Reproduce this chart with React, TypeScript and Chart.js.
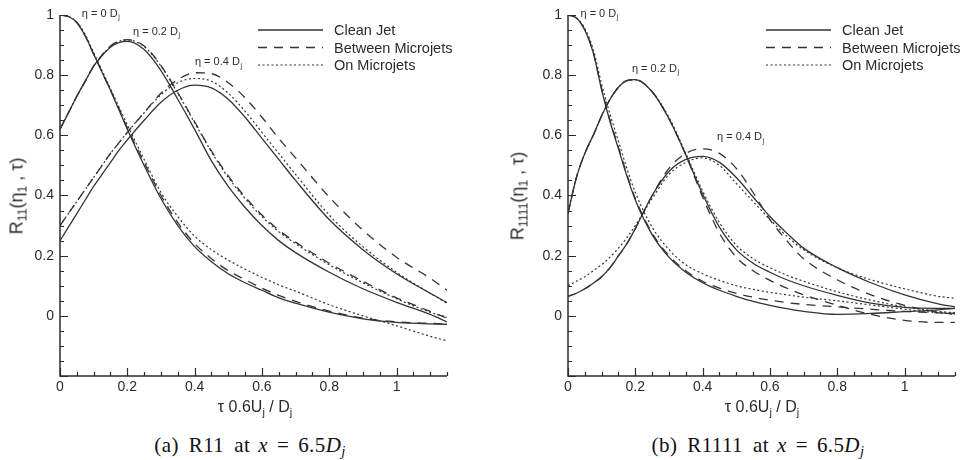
import React, { useEffect, useRef } from 'react';
import { Chart, registerables } from 'chart.js';
Chart.register(...registerables);

// ---- shared abscissa (tau * 0.6 Uj / Dj) ----
const TAU = [0, 0.025, 0.05, 0.075, 0.1, 0.125, 0.15, 0.175, 0.2, 0.25, 0.3, 0.35, 0.4, 0.45, 0.5, 0.55, 0.6, 0.65, 0.7, 0.8, 0.9, 1.0, 1.1, 1.15];

// ---- panel (a) R11 ----
const R11_ETA0_CLEAN = [1.0, 0.995, 0.975, 0.93, 0.87, 0.81, 0.75, 0.685, 0.62, 0.5, 0.39, 0.3, 0.23, 0.18, 0.14, 0.11, 0.085, 0.06, 0.042, 0.012, -0.01, -0.022, -0.027, -0.028];
const R11_ETA0_BETWEEN = [1.0, 0.995, 0.975, 0.93, 0.87, 0.81, 0.75, 0.69, 0.625, 0.51, 0.4, 0.31, 0.24, 0.19, 0.15, 0.12, 0.092, 0.068, 0.048, 0.016, -0.008, -0.02, -0.025, -0.027];
const R11_ETA0_ON = [1.0, 0.995, 0.976, 0.935, 0.875, 0.815, 0.755, 0.695, 0.635, 0.52, 0.41, 0.33, 0.265, 0.22, 0.185, 0.155, 0.128, 0.103, 0.082, 0.037, 0.0, -0.033, -0.068, -0.083];
const R11_ETA2_CLEAN = [0.62, 0.675, 0.73, 0.78, 0.83, 0.865, 0.893, 0.908, 0.912, 0.885, 0.815, 0.72, 0.62, 0.515, 0.43, 0.36, 0.3, 0.25, 0.21, 0.145, 0.09, 0.045, 0.005, -0.02];
const R11_ETA2_BETWEEN = [0.62, 0.675, 0.73, 0.78, 0.83, 0.867, 0.897, 0.913, 0.918, 0.897, 0.832, 0.742, 0.645, 0.548, 0.465, 0.395, 0.335, 0.285, 0.245, 0.175, 0.115, 0.06, 0.015, -0.008];
const R11_ETA2_ON = [0.62, 0.675, 0.73, 0.78, 0.83, 0.866, 0.896, 0.912, 0.917, 0.895, 0.83, 0.74, 0.642, 0.545, 0.46, 0.39, 0.33, 0.28, 0.24, 0.17, 0.11, 0.057, 0.012, -0.005];
const R11_ETA4_CLEAN = [0.25, 0.295, 0.34, 0.385, 0.43, 0.47, 0.51, 0.55, 0.585, 0.65, 0.71, 0.75, 0.767, 0.758, 0.72, 0.66, 0.59, 0.52, 0.45, 0.32, 0.22, 0.14, 0.075, 0.044];
const R11_ETA4_BETWEEN = [0.3, 0.34, 0.38, 0.42, 0.46, 0.5, 0.54, 0.575, 0.61, 0.675, 0.74, 0.785, 0.808, 0.805, 0.775, 0.725, 0.66, 0.59, 0.525, 0.395, 0.285, 0.195, 0.125, 0.085];
const R11_ETA4_ON = [0.3, 0.34, 0.38, 0.42, 0.46, 0.5, 0.54, 0.575, 0.61, 0.675, 0.735, 0.775, 0.789, 0.78, 0.74, 0.68, 0.61, 0.54, 0.47, 0.335, 0.23, 0.145, 0.075, 0.042];

// ---- panel (b) R1111 ----
const R1111_ETA0_CLEAN = [1.0, 0.99, 0.95, 0.875, 0.75, 0.645, 0.555, 0.465, 0.385, 0.27, 0.195, 0.145, 0.11, 0.085, 0.065, 0.048, 0.035, 0.024, 0.015, 0.005, 0.008, 0.014, 0.02, 0.025];
const R1111_ETA0_BETWEEN = [1.0, 0.99, 0.95, 0.875, 0.755, 0.65, 0.56, 0.47, 0.39, 0.275, 0.2, 0.15, 0.115, 0.092, 0.075, 0.062, 0.052, 0.044, 0.038, 0.03, 0.022, 0.015, 0.01, 0.008];
const R1111_ETA0_ON = [1.0, 0.99, 0.955, 0.885, 0.77, 0.67, 0.58, 0.49, 0.41, 0.295, 0.22, 0.17, 0.14, 0.118, 0.1, 0.088, 0.078, 0.07, 0.062, 0.05, 0.036, 0.022, 0.01, 0.006];
const R1111_ETA2_CLEAN = [0.34, 0.46, 0.54, 0.6, 0.665, 0.72, 0.76, 0.782, 0.785, 0.745, 0.655, 0.535, 0.405, 0.295, 0.22, 0.175, 0.145, 0.12, 0.1, 0.068, 0.042, 0.028, 0.025, 0.025];
const R1111_ETA2_BETWEEN = [0.34, 0.46, 0.54, 0.6, 0.665, 0.72, 0.76, 0.782, 0.785, 0.745, 0.655, 0.535, 0.395, 0.275, 0.195, 0.15, 0.118, 0.092, 0.07, 0.035, 0.005, -0.015, -0.022, -0.022];
const R1111_ETA2_ON = [0.35, 0.46, 0.54, 0.6, 0.665, 0.72, 0.76, 0.782, 0.785, 0.745, 0.66, 0.54, 0.415, 0.31, 0.235, 0.19, 0.16, 0.135, 0.115, 0.08, 0.052, 0.03, 0.015, 0.01];
const R1111_ETA4_CLEAN = [0.065, 0.075, 0.09, 0.108, 0.13, 0.16, 0.2, 0.24, 0.29, 0.4, 0.48, 0.52, 0.53, 0.51, 0.46, 0.395, 0.33, 0.275, 0.225, 0.16, 0.11, 0.07, 0.04, 0.03];
const R1111_ETA4_BETWEEN = [0.065, 0.075, 0.09, 0.108, 0.13, 0.16, 0.2, 0.24, 0.29, 0.4, 0.49, 0.54, 0.555, 0.54, 0.49, 0.41, 0.32, 0.25, 0.19, 0.12, 0.07, 0.035, 0.012, 0.005];
const R1111_ETA4_ON = [0.1, 0.115, 0.13, 0.15, 0.17, 0.195, 0.225, 0.26, 0.3, 0.39, 0.47, 0.51, 0.525, 0.5, 0.44, 0.38, 0.32, 0.265, 0.22, 0.16, 0.12, 0.09, 0.065, 0.058];

// ---- labels ----
const LEGEND_LABELS = ['Clean Jet', 'Between Microjets', 'On Microjets'];
const Y_TICKS = [0, 0.2, 0.4, 0.6, 0.8, 1];
const X_TICKS = [0, 0.2, 0.4, 0.6, 0.8, 1];
const ETA_LABELS = ['η = 0 D', 'η = 0.2 D', 'η = 0.4 D'];
const ANNOT_A = [[0.065, 1.005], [0.217, 0.945], [0.401, 0.845]];
const ANNOT_B = [[0.037, 1.005], [0.19, 0.822], [0.443, 0.595]];

const INK = '#2b2b2b';
const LINE = '#333333';
const SANS = '"Liberation Sans", Arial, Helvetica, sans-serif';
const SERIF = '"Liberation Serif", "DejaVu Serif", serif';

const STYLE_KEYS = ['clean', 'between', 'on'];
const DASHES: Record<string, number[]> = { clean: [], between: [9, 7], on: [2, 2.5] };

type PanelCfg = {
  canvasLeft: number;
  width: number;
  yAxisWidth: number;
  padRight: number;
  series: number[][];
  annots: number[][];
};

const CANVAS_H = 420;
const PLOT_TOP = 15;
const X_AXIS_H = 44;

function buildDatasets(series: number[][]) {
  return series.map((vals, i) => {
    const style = STYLE_KEYS[i % 3];
    return {
      label: LEGEND_LABELS[i % 3],
      data: TAU.map((t, k) => ({ x: t, y: vals[k] })),
      borderColor: LINE,
      borderWidth: style === 'on' ? 1.2 : 1.3,
      borderDash: DASHES[style],
      pointRadius: 0,
      fill: false,
      cubicInterpolationMode: 'monotone' as const,
    };
  });
}

function Panel({ cfg }: { cfg: PanelCfg }) {
  const ref = useRef<HTMLCanvasElement>(null);
  useEffect(() => {
    const decor = {
      id: 'decor',
      afterDraw(chart: any) {
        const { ctx, chartArea: ca, scales } = chart;
        const xs = scales.x;
        const ys = scales.y;
        ctx.save();
        ctx.strokeStyle = INK;
        ctx.lineWidth = 1.5;
        ctx.setLineDash([]);
        ctx.beginPath();
        ctx.moveTo(ca.left, ca.top);
        ctx.lineTo(ca.left, ca.bottom);
        ctx.lineTo(ca.right, ca.bottom);
        ctx.stroke();
        ctx.lineWidth = 1.2;
        ctx.beginPath();
        for (let k = -4; k <= 20; k++) {
          const v = k * 0.05;
          const major = k % 4 === 0;
          const py = Math.round(ys.getPixelForValue(v)) + 0.5;
          ctx.moveTo(ca.left, py);
          ctx.lineTo(ca.left + (major ? 8 : 4), py);
        }
        for (let k = 0; k <= 23; k++) {
          const v = k * 0.05;
          const major = k % 4 === 0;
          const px = Math.round(xs.getPixelForValue(v)) + 0.5;
          ctx.moveTo(px, ca.bottom);
          ctx.lineTo(px, ca.bottom - (major ? 8 : 4));
        }
        ctx.stroke();
        ctx.fillStyle = INK;
        ctx.font = '14px ' + SANS;
        ctx.textAlign = 'right';
        ctx.textBaseline = 'middle';
        Y_TICKS.forEach((v) => ctx.fillText(String(v), ca.left - 6, ys.getPixelForValue(v)));
        ctx.textAlign = 'center';
        ctx.textBaseline = 'top';
        X_TICKS.forEach((v) => ctx.fillText(String(v), xs.getPixelForValue(v), ca.bottom + 4));
        const lx = ca.left + 198;
        STYLE_KEYS.forEach((s, i) => {
          const ly = ca.top + 15 + i * 17.5;
          ctx.strokeStyle = LINE;
          ctx.lineWidth = s === 'on' ? 1.2 : 1.4;
          ctx.setLineDash(DASHES[s]);
          ctx.beginPath();
          ctx.moveTo(lx, ly);
          ctx.lineTo(lx + 65, ly);
          ctx.stroke();
          ctx.setLineDash([]);
          ctx.textAlign = 'left';
          ctx.textBaseline = 'middle';
          ctx.font = '14.5px ' + SANS;
          ctx.fillText(LEGEND_LABELS[i], lx + 76, ly + 1);
        });
        cfg.annots.forEach((a, i) => {
          const px = xs.getPixelForValue(a[0]);
          const py = ys.getPixelForValue(a[1]);
          ctx.font = '11px ' + SANS;
          ctx.textAlign = 'left';
          ctx.textBaseline = 'middle';
          ctx.fillText(ETA_LABELS[i], px, py);
          const w = ctx.measureText(ETA_LABELS[i]).width;
          ctx.font = '7px ' + SANS;
          ctx.fillText('j', px + w + 0.5, py + 4);
        });
        ctx.restore();
      },
    };
    const chart = new Chart(ref.current as HTMLCanvasElement, {
      type: 'line',
      data: { datasets: buildDatasets(cfg.series) as any },
      options: {
        responsive: false,
        animation: false,
        events: [],
        layout: { padding: { left: 0, right: cfg.padRight, top: PLOT_TOP, bottom: 0 } },
        plugins: { legend: { display: false }, tooltip: { enabled: false } },
        scales: {
          x: {
            type: 'linear', min: 0, max: 1.15,
            ticks: { display: false },
            grid: { display: false, drawTicks: false },
            border: { display: false },
            afterFit: (s: any) => { s.height = X_AXIS_H; },
          },
          y: {
            type: 'linear', min: -0.2, max: 1,
            ticks: { display: false },
            grid: { display: false, drawTicks: false },
            border: { display: false },
            afterFit: (s: any) => { s.width = cfg.yAxisWidth; },
          },
        },
      } as any,
      plugins: [decor],
    });
    return () => chart.destroy();
  }, [cfg]);
  return (
    <canvas
      ref={ref}
      width={cfg.width}
      height={CANVAS_H}
      style={{ position: 'absolute', left: cfg.canvasLeft, top: 0, width: cfg.width, height: CANVAS_H }}
    />
  );
}

const PANEL_A: PanelCfg = {
  canvasLeft: 0, width: 481, yAxisWidth: 60, padRight: 34,
  series: [R11_ETA0_CLEAN, R11_ETA0_BETWEEN, R11_ETA0_ON, R11_ETA2_CLEAN, R11_ETA2_BETWEEN, R11_ETA2_ON, R11_ETA4_CLEAN, R11_ETA4_BETWEEN, R11_ETA4_ON],
  annots: ANNOT_A,
};
const PANEL_B: PanelCfg = {
  canvasLeft: 481, width: 481, yAxisWidth: 87, padRight: 7,
  series: [R1111_ETA0_CLEAN, R1111_ETA0_BETWEEN, R1111_ETA0_ON, R1111_ETA2_CLEAN, R1111_ETA2_BETWEEN, R1111_ETA2_ON, R1111_ETA4_CLEAN, R1111_ETA4_BETWEEN, R1111_ETA4_ON],
  annots: ANNOT_B,
};

const subStyle: React.CSSProperties = { fontSize: '0.68em', verticalAlign: '-0.35em', lineHeight: 0 };

function YTitle({ left, sub }: { left: number; sub: string }) {
  return (
    <div
      style={{
        position: 'absolute', left, top: 196, transform: 'translate(-50%, -50%) rotate(-90deg)',
        whiteSpace: 'nowrap', font: '18px ' + SANS, color: INK,
      }}
    >
      R<span style={subStyle}>{sub}</span>(η<span style={subStyle}>1</span> , τ)
    </div>
  );
}

function XTitle({ center }: { center: number }) {
  return (
    <div
      style={{
        position: 'absolute', left: center, top: 407, transform: 'translate(-50%, -50%)',
        whiteSpace: 'nowrap', font: '16px ' + SANS, color: INK,
      }}
    >
      τ 0.6U<span style={subStyle}>j</span> / D<span style={subStyle}>j</span>
    </div>
  );
}

function Caption({ center, tag, name }: { center: number; tag: string; name: string }) {
  const gap = (w: number): React.CSSProperties => ({ display: 'inline-block', width: w });
  return (
    <div
      style={{
        position: 'absolute', left: center, top: 445, transform: 'translate(-50%, -50%)',
        whiteSpace: 'nowrap', font: '21px ' + SERIF, color: '#111', letterSpacing: '0.4px',
      }}
    >
      <span>({tag})</span>
      <span style={gap(10)} />
      <span>{name}</span>
      <span style={gap(10)} />
      <span>at</span>
      <span style={gap(8)} />
      <i>x</i>
      <span style={gap(9)} />
      <span>=</span>
      <span style={gap(9)} />
      <span>6.5</span>
      <i>D</i>
      <i style={{ fontSize: '0.7em', verticalAlign: '-0.3em', lineHeight: 0 }}>j</i>
    </div>
  );
}

export default function App() {
  return (
    <div style={{ position: 'fixed', left: 0, top: 0, width: 962, height: 460, background: '#fff', overflow: 'hidden' }}>
      <Panel cfg={PANEL_A} />
      <Panel cfg={PANEL_B} />
      <YTitle left={17} sub="11" />
      <YTitle left={518} sub="1111" />
      <XTitle center={255} />
      <XTitle center={762} />
      <Caption center={250} tag="a" name="R11" />
      <Caption center={758} tag="b" name="R1111" />
    </div>
  );
}
